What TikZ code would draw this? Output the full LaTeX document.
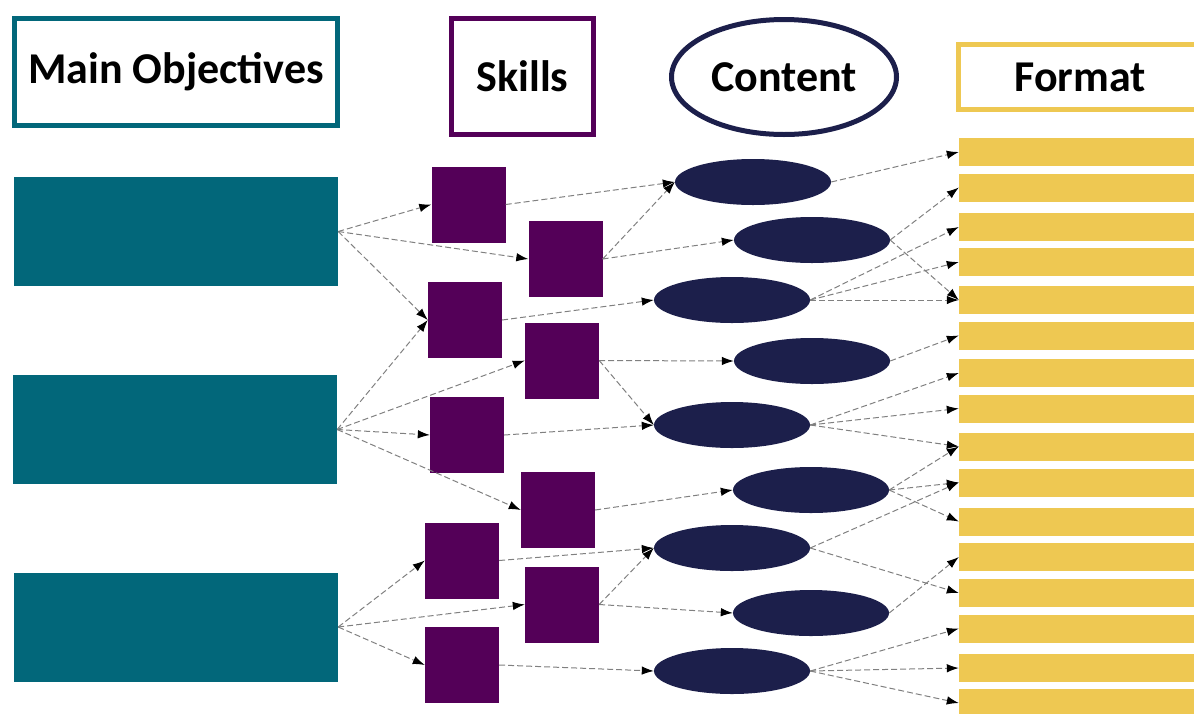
\documentclass[tikz,border=0pt]{standalone}
\usepackage{fontspec}
\setmainfont{Carlito}
\usetikzlibrary{shapes.geometric,arrows.meta}
\definecolor{objteal}{RGB}{2,103,122}
\definecolor{skillpurple}{RGB}{84,0,88}
\definecolor{contentnavy}{RGB}{28,31,75}
\definecolor{fmtyellow}{RGB}{238,200,82}
\begin{document}
\begin{tikzpicture}[x=1pt, y=-1pt,
  head/.style={draw, line width=5pt, inner sep=0, font=\bfseries\fontsize{44}{50}\selectfont},
  obj/.style={fill=objteal, inner sep=0, minimum width=324pt, minimum height=109pt},
  skill/.style={fill=skillpurple, inner sep=0, minimum width=74pt, minimum height=76pt},
  topic/.style={ellipse, fill=contentnavy, inner sep=0, minimum width=156pt, minimum height=46pt},
  fmt/.style={fill=fmtyellow, inner sep=0, minimum width=235pt, minimum height=28pt},
  link/.style={draw=gray, line width=1pt, dash pattern=on 6pt off 3pt, -{Latex[black, length=12pt, width=8.5pt]}}]
\useasboundingbox (0,0) rectangle (1194,713);
\clip (0,0) rectangle (1194,713);
\node[head, draw=objteal, minimum width=323pt, minimum height=107pt] (hobj) at (176,72){Main Objectives};
\node[head, draw=skillpurple, minimum width=142pt, minimum height=116pt] (hsk) at (522.5,76.5){Skills};
\node[head, ellipse, draw=contentnavy, minimum width=225pt, minimum height=115pt] (hct) at (784,77){Content};
\node[head, draw=fmtyellow, minimum width=283pt, minimum height=65pt] (hfm) at (1100,77){};
\node[font=\bfseries\fontsize{44}{50}\selectfont, inner sep=0] (hfmtext) at (1080,77){Format};
\node[obj] (obj0) at (176,231.5){};
\node[obj] (obj1) at (175,429.5){};
\node[obj] (obj2) at (176,627){};
\node[skill] (sk0) at (468.5,204.5){};
\node[skill] (sk1) at (565.5,259){};
\node[skill] (sk2) at (465,320){};
\node[skill] (sk3) at (562,360.5){};
\node[skill] (sk4) at (467,435){};
\node[skill] (sk5) at (558,510){};
\node[skill] (sk6) at (462,560.5){};
\node[skill] (sk7) at (562,604.5){};
\node[skill] (sk8) at (462,665){};
\node[topic] (ct0) at (753,182){};
\node[topic] (ct1) at (812,240){};
\node[topic] (ct2) at (732,300){};
\node[topic] (ct3) at (812,361){};
\node[topic] (ct4) at (732,425){};
\node[topic] (ct5) at (811,490){};
\node[topic] (ct6) at (732,548){};
\node[topic] (ct7) at (811,613){};
\node[topic] (ct8) at (732,671){};
\node[fmt] (fm0) at (1076.5,152){};
\node[fmt] (fm1) at (1076.5,187.5){};
\node[fmt] (fm2) at (1076.5,227){};
\node[fmt] (fm3) at (1076.5,262){};
\node[fmt] (fm4) at (1076.5,300){};
\node[fmt] (fm5) at (1076.5,335.5){};
\node[fmt] (fm6) at (1076.5,373){};
\node[fmt] (fm7) at (1076.5,408.5){};
\node[fmt] (fm8) at (1076.5,446.5){};
\node[fmt] (fm9) at (1076.5,482.5){};
\node[fmt] (fm10) at (1076.5,521.5){};
\node[fmt] (fm11) at (1076.5,557){};
\node[fmt] (fm12) at (1076.5,593){};
\node[fmt] (fm13) at (1076.5,628.5){};
\node[fmt] (fm14) at (1076.5,668){};
\node[fmt] (fm15) at (1076.5,703){};
\draw[link](obj0.east) -- (sk0.west);
\draw[link](obj0.east) -- (sk1.west);
\draw[link](obj0.east) -- (sk2.west);
\draw[link](obj1.east) -- (sk2.west);
\draw[link](obj1.east) -- (sk3.west);
\draw[link](obj1.east) -- (sk4.west);
\draw[link](obj1.east) -- (sk5.west);
\draw[link](obj2.east) -- (sk6.west);
\draw[link](obj2.east) -- (sk7.west);
\draw[link](obj2.east) -- (sk8.west);
\draw[link](sk0.east) -- (ct0.west);
\draw[link](sk1.east) -- (ct0.west);
\draw[link](sk1.east) -- (ct1.west);
\draw[link](sk2.east) -- (ct2.west);
\draw[link](sk3.east) -- (ct3.west);
\draw[link](sk3.east) -- (ct4.west);
\draw[link](sk4.east) -- (ct4.west);
\draw[link](sk5.east) -- (ct5.west);
\draw[link](sk6.east) -- (ct6.west);
\draw[link](sk7.east) -- (ct6.west);
\draw[link](sk7.east) -- (ct7.west);
\draw[link](sk8.east) -- (ct8.west);
\draw[link](ct0.east) -- (fm0.west);
\draw[link](ct1.east) -- (fm1.west);
\draw[link](ct1.east) -- (fm4.west);
\draw[link](ct2.east) -- (fm2.west);
\draw[link](ct2.east) -- (fm3.west);
\draw[link](ct2.east) -- (fm4.west);
\draw[link](ct3.east) -- (fm5.west);
\draw[link](ct4.east) -- (fm6.west);
\draw[link](ct4.east) -- (fm7.west);
\draw[link](ct4.east) -- (fm8.west);
\draw[link](ct5.east) -- (fm8.west);
\draw[link](ct5.east) -- (fm9.west);
\draw[link](ct5.east) -- (fm10.west);
\draw[link](ct6.east) -- (fm9.west);
\draw[link](ct6.east) -- (fm12.west);
\draw[link](ct7.east) -- (fm11.west);
\draw[link](ct8.east) -- (fm13.west);
\draw[link](ct8.east) -- (fm14.west);
\draw[link](ct8.east) -- (fm15.west);
\end{tikzpicture}
\end{document}
